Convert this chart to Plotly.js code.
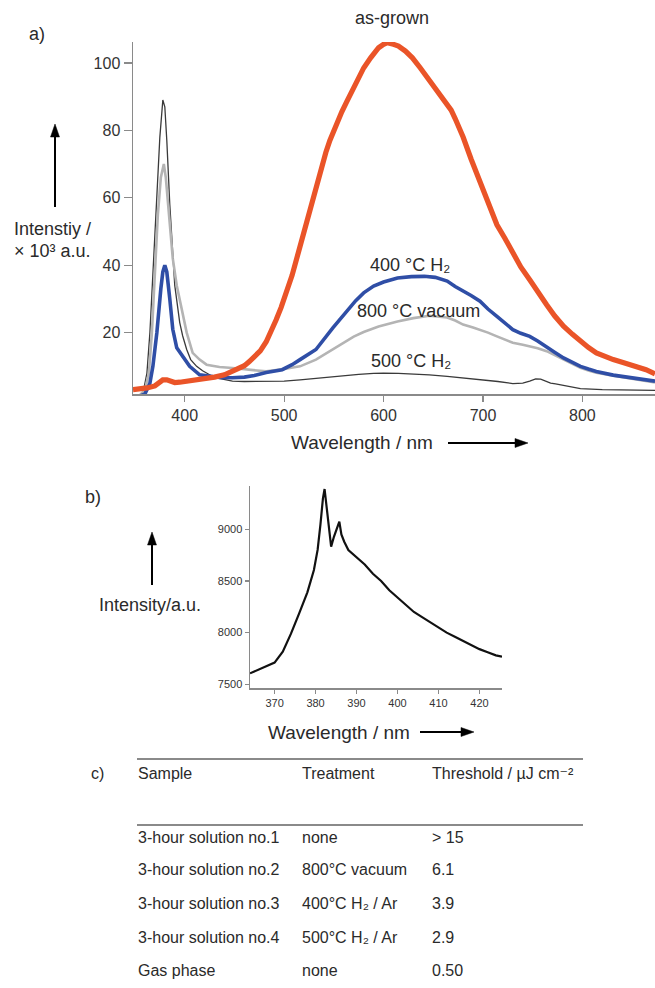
<!DOCTYPE html>
<html>
<head>
<meta charset="utf-8">
<script src="https://cdn.plot.ly/plotly-3.0.1.min.js"></script>
<style>html,body{margin:0;padding:0;background:#fff;}#chart{width:655px;height:988px;}</style>
</head>
<body>
<div id="chart"></div>
<script>
// ---- Panel a: photoluminescence spectra (Intensity x10^3 a.u.) ----
const asGrownX = [348,355,362,370,375,378,382,386,390,395,400,410,420,430,440,448,455,460,465,470,476,482,487,492,497,502,508,515,521,527,532,537,542,546,552,558,563,570,575,580,587,595,600,604,610,615,622,629,637,646,655,660,664,668,672,680,688,697,705,714,722,730,738,747,755,764,772,781,790,798,806,814,822,831,840,848,856,864,873];
const asGrownY = [3.1,3.3,3.6,4.2,5.2,6,6,5.6,5.2,5.3,5.5,6,6.3,6.8,7.5,8.5,9.2,10.2,11.4,12.8,14.6,17.3,20.3,23.8,27.5,31.5,37,44.5,51,58,63.5,68.5,73.5,77,81.5,85.5,88.5,92.5,95.5,98.5,101.5,104.5,105.5,106,105.5,105,103.5,101.5,98.5,95,91.5,89,87.5,86,83.5,78,71.5,65,58.5,52,48,43.6,39.5,35.7,32,28.3,25,21.9,19.5,17.4,15.6,14,13,12,11.2,10.5,9.8,9,7.8];

const h400X = [348,355,360,365,368,372,376,378,380,382,385,388,392,398,405,415,425,435,448,460,470,482,498,508,516,532,549,556,565,572,580,590,600,614,628,641,652,664,672,680,688,697,705,714,722,730,738,747,755,764,772,781,790,798,806,814,831,848,873];
const h400Y = [1,1.2,1.8,5,10,20,33,38,40,38,30,21,15.5,13,10,7.5,7,6.7,6.6,6.8,7.3,8.2,9,10.5,12,15,21.4,23.8,27,29.5,31.8,33.8,35,36.2,36.6,36.7,36.4,35.3,33.7,32.5,31,29.3,27,24.8,22.8,20.9,19.8,18.9,17.5,15.9,14.2,12.5,11.2,10,9.2,8.5,7.4,6.6,5.6];

const v800X = [348,355,360,364,367,370,373,376,379,381,384,388,392,395,402,408,415,422,435,448,465,482,500,516,532,549,560,570,580,595,614,630,646,664,672,680,690,697,705,714,722,730,740,747,755,764,772,781,790,798,806,814,831,848,873];
const v800Y = [1,1.5,3,8,20,38,55,66,70,66,55,42,34,30,20,14,12,10.5,9.8,9.5,9,8.5,9.2,10,12,15,17,18.8,20.2,21.8,23.3,24.3,25,24.5,23.6,22.4,21.5,20.9,20,18.9,17.9,17,16.4,16,15.4,14.5,13.3,12,10.8,9.6,8.8,8.1,7.2,6.4,5.2];

const h500X = [348,355,358,362,365,368,372,375,378,380,382,385,390,395,398,402,406,412,418,425,432,440,448,460,482,500,516,530,546,560,575,590,600,615,629,646,664,680,697,715,730,740,747,753,758,763,768,773,781,798,820,840,873];
const h500Y = [1,1.5,2,8,20,38,59,78,89,87,77,58,34,23,19,15,12,10,8.7,7.5,6.6,6,5.6,5.5,5.5,5.6,6,6.4,6.9,7.3,7.6,7.9,8,7.9,7.7,7.5,7,6.6,6,5.5,4.9,5,5.6,6.3,6.2,5.6,5,4.8,4.4,3.4,3.1,3,2.9];

const aTicksX = [400,500,600,700,800];
const aTicksY = [20,40,60,80,100];

// ---- Panel b: spectrum near the band edge (Intensity a.u.) ----
const bX = [364,366,368,370,372,374,376,378,379.6,380.5,381.2,381.8,382.2,382.6,383.2,383.8,384.5,385.2,385.8,386.3,387,388,390,392,394,396,398,400,402,404,406,408,410,412,414,416,418,420,422,424,425.5];
const bY = [7606,7640,7670,7710,7816,7990,8187,8390,8606,8800,9050,9300,9390,9250,9000,8832,8930,9000,9074,8950,8880,8800,8730,8660,8570,8500,8410,8340,8270,8200,8150,8100,8050,8000,7960,7920,7880,7840,7810,7780,7768];
const bTicksX = [370,380,390,400,410,420];
const bTicksY = [7500,8000,8500,9000];

// ---- Panel c: lasing thresholds ----
const tableHeader = ["Sample","Treatment","Threshold / µJ cm⁻²"];
const samples = ["3-hour solution no.1","3-hour solution no.2","3-hour solution no.3","3-hour solution no.4","Gas phase"];
const treatments = ["none","800°C vacuum","400°C H₂ / Ar","500°C H₂ / Ar","none"];
const thresholds = ["> 15","6.1","3.9","2.9","0.50"];

const W = 655, H = 988;
const px = x => x / W;
const py = y => 1 - y / H;
const FONT = "Liberation Sans, Arial, Helvetica, DejaVu Sans, sans-serif";
const TXT = "#2a2a2a";

const traces = [
  {x: h500X, y: h500Y, type: "scatter", mode: "lines", line: {color: "#3a3a3a", width: 1.3}, xaxis: "x", yaxis: "y", hoverinfo: "skip"},
  {x: v800X, y: v800Y, type: "scatter", mode: "lines", line: {color: "#b4b4b4", width: 2.6}, xaxis: "x", yaxis: "y", hoverinfo: "skip"},
  {x: h400X, y: h400Y, type: "scatter", mode: "lines", line: {color: "#2f4ea6", width: 3.6}, xaxis: "x", yaxis: "y", hoverinfo: "skip"},
  {x: asGrownX, y: asGrownY, type: "scatter", mode: "lines", line: {color: "#ea5428", width: 5.2}, xaxis: "x", yaxis: "y", hoverinfo: "skip"},
  {x: bX, y: bY, type: "scatter", mode: "lines", line: {color: "#111", width: 2.2}, xaxis: "x2", yaxis: "y2", hoverinfo: "skip"}
];

const axisCommon = {
  showgrid: false, zeroline: false, showline: true, linecolor: "#8a8a8a", linewidth: 1.5,
  ticks: "outside", tickcolor: "#8a8a8a", tickwidth: 1.2, mirror: false
};

const ann = [];
const shapes = [];
function txt(text, x, y, size, xanchor) {
  ann.push({text: text, x: px(x), y: py(y), xref: "paper", yref: "paper", showarrow: false,
    xanchor: xanchor || "center", yanchor: "middle", font: {family: FONT, size: size, color: TXT}});
}
function arrow(x1, y1, x2, y2) {
  // tail (x1,y1) -> head (x2,y2), drawn as a line plus a filled triangle
  const L = 13, hw = 4.5;
  const dx = x2 - x1, dy = y2 - y1, d = Math.hypot(dx, dy);
  const ux = dx / d, uy = dy / d;
  const bx = x2 - ux * L, by = y2 - uy * L;
  shapes.push({type: "line", xref: "paper", yref: "paper", x0: px(x1), y0: py(y1), x1: px(bx), y1: py(by),
    line: {color: "#000", width: 2}});
  const p1 = [bx - uy * hw, by + ux * hw], p2 = [bx + uy * hw, by - ux * hw];
  shapes.push({type: "path", xref: "paper", yref: "paper",
    path: `M ${px(x2)} ${py(y2)} L ${px(p1[0])} ${py(p1[1])} L ${px(p2[0])} ${py(p2[1])} Z`,
    fillcolor: "#000", line: {color: "#000", width: 0.5}});
}

// panel labels
txt("a)", 37, 34, 18);
txt("b)", 93, 497, 18);
txt("c)", 97, 773, 16);

// panel a texts
txt("as-grown", 392, 18, 18);
txt("400 °C H₂", 410, 265, 18);
txt("800 °C vacuum", 418, 311, 18);
txt("500 °C H₂", 411, 361, 18);
txt("Intenstiy /", 52, 229, 18);
txt("× 10³ a.u.", 52, 251, 18);
arrow(55, 207, 55, 124);
txt("Wavelength / nm", 362, 442, 19);
arrow(448, 443, 528, 443);

// panel b texts
txt("Intensity/a.u.", 150, 605, 18);
arrow(152, 585, 152, 532);
txt("Wavelength / nm", 339, 732, 19);
arrow(420, 732, 474, 732);

// table
const colX = [136, 300, 430];
const rowY = [837, 869, 903, 937, 970];
tableHeader.forEach((h, i) => txt(h, colX[i], 773, 16, "left"));
samples.forEach((s, r) => {
  txt(s, colX[0], rowY[r], 16, "left");
  txt(treatments[r], colX[1], rowY[r], 16, "left");
  txt(thresholds[r], colX[2], rowY[r], 16, "left");
});

shapes.push(
  {type: "line", xref: "paper", yref: "paper", x0: px(137), x1: px(583), y0: py(759), y1: py(759), line: {color: "#8a8a8a", width: 2}},
  {type: "line", xref: "paper", yref: "paper", x0: px(137), x1: px(583), y0: py(825), y1: py(825), line: {color: "#8a8a8a", width: 2}}
);

const layout = {
  width: W, height: H, margin: {l: 0, r: 0, t: 0, b: 0},
  paper_bgcolor: "#fff", plot_bgcolor: "#fff", showlegend: false,
  font: {family: FONT, color: TXT},
  xaxis: Object.assign({}, axisCommon, {domain: [px(133), 1], range: [348, 873], tickvals: aTicksX, ticklen: 6,
    tickfont: {family: FONT, size: 16, color: "#333"}, anchor: "y"}),
  yaxis: Object.assign({}, axisCommon, {domain: [py(394), py(42)], range: [1.8, 106.2], tickvals: aTicksY, ticklen: 8,
    tickfont: {family: FONT, size: 16, color: "#333"}, anchor: "x"}),
  xaxis2: Object.assign({}, axisCommon, {domain: [px(250), px(502)], range: [364, 425.5], tickvals: bTicksX, ticklen: 4,
    tickfont: {family: FONT, size: 11, color: "#333"}, anchor: "y2"}),
  yaxis2: Object.assign({}, axisCommon, {domain: [py(688), py(486)], range: [7464, 9419], tickvals: bTicksY, ticklen: 4,
    tickfont: {family: FONT, size: 11, color: "#333"}, anchor: "x2"}),
  annotations: ann,
  shapes: shapes
};

Plotly.newPlot("chart", traces, layout, {displayModeBar: false, staticPlot: true});
</script>
</body>
</html>
